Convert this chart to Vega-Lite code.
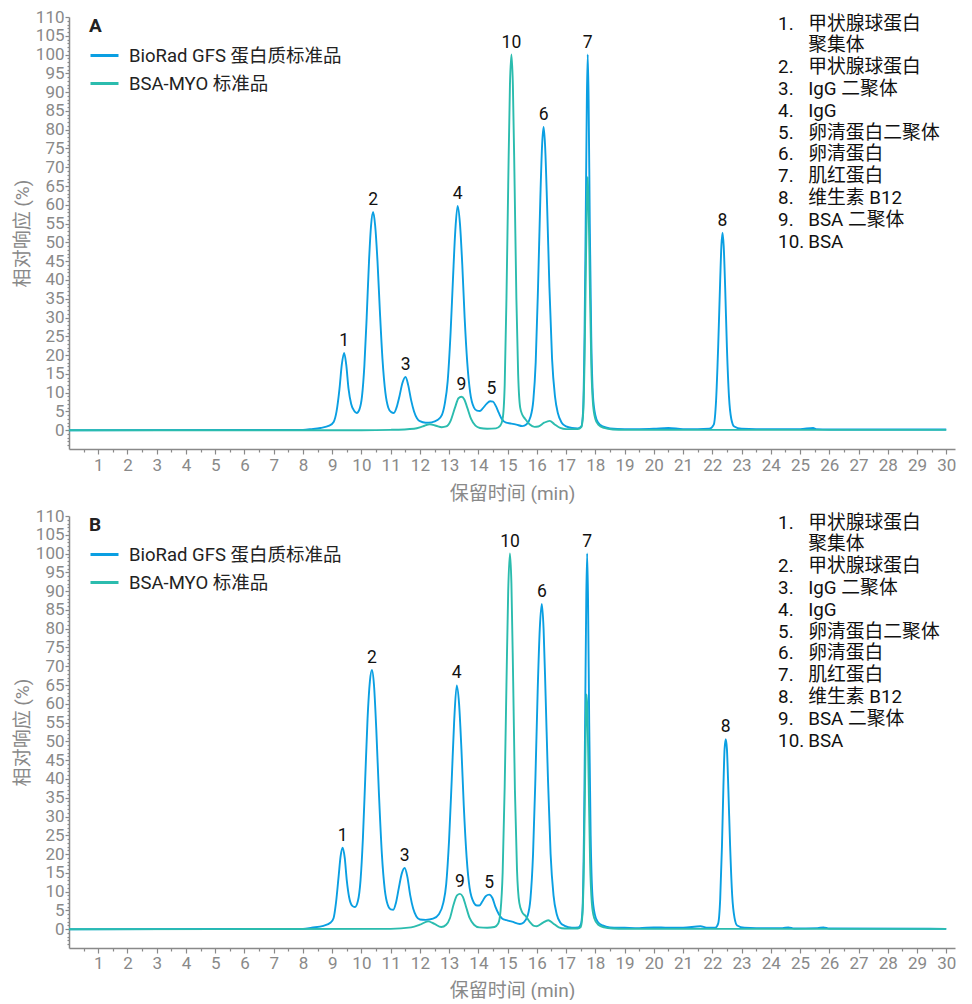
{
  "$schema": "https://vega.github.io/schema/vega-lite/v6.json",
  "padding": {"left": 13, "top": 8, "right": 0, "bottom": 0},
  "background": "white",
  "spacing": 4,
  "config": {
    "font": "Roboto, 'Noto Sans CJK SC'",
    "view": {"stroke": null},
    "axis": {
      "labelFont": "Roboto",
      "labelFontSize": 17,
      "labelColor": "#898989",
      "titleColor": "#898989",
      "titleFont": "Roboto, 'Noto Sans CJK SC'",
      "titleFontWeight": "normal",
      "titleFontSize": 19,
      "domainColor": "#898989",
      "domainWidth": 1.5,
      "tickColor": "#898989",
      "tickWidth": 1.2,
      "grid": false
    }
  },
  "datasets": {
    "traceA": [
      {"s":"BioRad GFS 蛋白质标准品","t":0,"v":0},{"s":"BioRad GFS 蛋白质标准品","t":8,"v":0.1},{"s":"BioRad GFS 蛋白质标准品","t":8.3,"v":0.3},{"s":"BioRad GFS 蛋白质标准品","t":8.6,"v":0.6},{"s":"BioRad GFS 蛋白质标准品","t":8.9,"v":1.2},{"s":"BioRad GFS 蛋白质标准品","t":9.05,"v":2.2},{"s":"BioRad GFS 蛋白质标准品","t":9.15,"v":5},{"s":"BioRad GFS 蛋白质标准品","t":9.25,"v":11},{"s":"BioRad GFS 蛋白质标准品","t":9.33,"v":17.5},{"s":"BioRad GFS 蛋白质标准品","t":9.41,"v":20.6},{"s":"BioRad GFS 蛋白质标准品","t":9.48,"v":17.5},{"s":"BioRad GFS 蛋白质标准品","t":9.56,"v":11},{"s":"BioRad GFS 蛋白质标准品","t":9.65,"v":7},{"s":"BioRad GFS 蛋白质标准品","t":9.75,"v":5.2},{"s":"BioRad GFS 蛋白质标准品","t":9.84,"v":4.6},{"s":"BioRad GFS 蛋白质标准品","t":9.93,"v":5.5},{"s":"BioRad GFS 蛋白质标准品","t":10.02,"v":9},{"s":"BioRad GFS 蛋白质标准品","t":10.1,"v":17},{"s":"BioRad GFS 蛋白质标准品","t":10.18,"v":30},{"s":"BioRad GFS 蛋白质标准品","t":10.26,"v":45},{"s":"BioRad GFS 蛋白质标准品","t":10.33,"v":54.5},{"s":"BioRad GFS 蛋白质标准品","t":10.4,"v":58.1},{"s":"BioRad GFS 蛋白质标准品","t":10.47,"v":54.5},{"s":"BioRad GFS 蛋白质标准品","t":10.55,"v":45},{"s":"BioRad GFS 蛋白质标准品","t":10.63,"v":32},{"s":"BioRad GFS 蛋白质标准品","t":10.72,"v":19},{"s":"BioRad GFS 蛋白质标准品","t":10.82,"v":10},{"s":"BioRad GFS 蛋白质标准品","t":10.92,"v":6},{"s":"BioRad GFS 蛋白质标准品","t":11.02,"v":4.8},{"s":"BioRad GFS 蛋白质标准品","t":11.11,"v":4.6},{"s":"BioRad GFS 蛋白质标准品","t":11.2,"v":6},{"s":"BioRad GFS 蛋白质标准品","t":11.3,"v":9},{"s":"BioRad GFS 蛋白质标准品","t":11.4,"v":12.5},{"s":"BioRad GFS 蛋白质标准品","t":11.51,"v":14.2},{"s":"BioRad GFS 蛋白质标准品","t":11.6,"v":12},{"s":"BioRad GFS 蛋白质标准品","t":11.7,"v":8},{"s":"BioRad GFS 蛋白质标准品","t":11.8,"v":5},{"s":"BioRad GFS 蛋白质标准品","t":11.9,"v":3.2},{"s":"BioRad GFS 蛋白质标准品","t":12,"v":2.4},{"s":"BioRad GFS 蛋白质标准品","t":12.2,"v":2},{"s":"BioRad GFS 蛋白质标准品","t":12.4,"v":2.1},{"s":"BioRad GFS 蛋白质标准品","t":12.6,"v":2.7},{"s":"BioRad GFS 蛋白质标准品","t":12.75,"v":4},{"s":"BioRad GFS 蛋白质标准品","t":12.85,"v":7},{"s":"BioRad GFS 蛋白质标准品","t":12.95,"v":13},{"s":"BioRad GFS 蛋白质标准品","t":13.05,"v":26},{"s":"BioRad GFS 蛋白质标准品","t":13.13,"v":40},{"s":"BioRad GFS 蛋白质标准品","t":13.21,"v":53},{"s":"BioRad GFS 蛋白质标准品","t":13.29,"v":59.7},{"s":"BioRad GFS 蛋白质标准品","t":13.37,"v":55},{"s":"BioRad GFS 蛋白质标准品","t":13.45,"v":44},{"s":"BioRad GFS 蛋白质标准品","t":13.53,"v":30},{"s":"BioRad GFS 蛋白质标准品","t":13.62,"v":18},{"s":"BioRad GFS 蛋白质标准品","t":13.72,"v":10},{"s":"BioRad GFS 蛋白质标准品","t":13.85,"v":6},{"s":"BioRad GFS 蛋白质标准品","t":13.95,"v":5.2},{"s":"BioRad GFS 蛋白质标准品","t":14.05,"v":5.1},{"s":"BioRad GFS 蛋白质标准品","t":14.15,"v":5.8},{"s":"BioRad GFS 蛋白质标准品","t":14.28,"v":7},{"s":"BioRad GFS 蛋白质标准品","t":14.4,"v":7.7},{"s":"BioRad GFS 蛋白质标准品","t":14.5,"v":7.6},{"s":"BioRad GFS 蛋白质标准品","t":14.6,"v":6.4},{"s":"BioRad GFS 蛋白质标准品","t":14.7,"v":4.6},{"s":"BioRad GFS 蛋白质标准品","t":14.8,"v":3},{"s":"BioRad GFS 蛋白质标准品","t":14.95,"v":2},{"s":"BioRad GFS 蛋白质标准品","t":15.1,"v":1.8},{"s":"BioRad GFS 蛋白质标准品","t":15.3,"v":1.5},{"s":"BioRad GFS 蛋白质标准品","t":15.5,"v":1.1},{"s":"BioRad GFS 蛋白质标准品","t":15.65,"v":1.6},{"s":"BioRad GFS 蛋白质标准品","t":15.78,"v":3.5},{"s":"BioRad GFS 蛋白质标准品","t":15.88,"v":8},{"s":"BioRad GFS 蛋白质标准品","t":15.96,"v":18},{"s":"BioRad GFS 蛋白质标准品","t":16.04,"v":38},{"s":"BioRad GFS 蛋白质标准品","t":16.12,"v":62},{"s":"BioRad GFS 蛋白质标准品","t":16.18,"v":76},{"s":"BioRad GFS 蛋白质标准品","t":16.23,"v":80.7},{"s":"BioRad GFS 蛋白质标准品","t":16.28,"v":76},{"s":"BioRad GFS 蛋白质标准品","t":16.35,"v":60},{"s":"BioRad GFS 蛋白质标准品","t":16.43,"v":38},{"s":"BioRad GFS 蛋白质标准品","t":16.52,"v":19},{"s":"BioRad GFS 蛋白质标准品","t":16.62,"v":9},{"s":"BioRad GFS 蛋白质标准品","t":16.72,"v":4.5},{"s":"BioRad GFS 蛋白质标准品","t":16.85,"v":2},{"s":"BioRad GFS 蛋白质标准品","t":17,"v":1},{"s":"BioRad GFS 蛋白质标准品","t":17.2,"v":0.6},{"s":"BioRad GFS 蛋白质标准品","t":17.4,"v":0.5},{"s":"BioRad GFS 蛋白质标准品","t":17.52,"v":1},{"s":"BioRad GFS 蛋白质标准品","t":17.58,"v":5},{"s":"BioRad GFS 蛋白质标准品","t":17.63,"v":25},{"s":"BioRad GFS 蛋白质标准品","t":17.67,"v":55},{"s":"BioRad GFS 蛋白质标准品","t":17.71,"v":88},{"s":"BioRad GFS 蛋白质标准品","t":17.74,"v":100},{"s":"BioRad GFS 蛋白质标准品","t":17.77,"v":88},{"s":"BioRad GFS 蛋白质标准品","t":17.81,"v":55},{"s":"BioRad GFS 蛋白质标准品","t":17.86,"v":25},{"s":"BioRad GFS 蛋白质标准品","t":17.92,"v":9},{"s":"BioRad GFS 蛋白质标准品","t":18,"v":4},{"s":"BioRad GFS 蛋白质标准品","t":18.1,"v":2},{"s":"BioRad GFS 蛋白质标准品","t":18.25,"v":1},{"s":"BioRad GFS 蛋白质标准品","t":18.5,"v":0.5},{"s":"BioRad GFS 蛋白质标准品","t":19,"v":0.3},{"s":"BioRad GFS 蛋白质标准品","t":19.5,"v":0.3},{"s":"BioRad GFS 蛋白质标准品","t":20,"v":0.4},{"s":"BioRad GFS 蛋白质标准品","t":20.5,"v":0.6},{"s":"BioRad GFS 蛋白质标准品","t":21,"v":0.3},{"s":"BioRad GFS 蛋白质标准品","t":21.5,"v":0.3},{"s":"BioRad GFS 蛋白质标准品","t":21.9,"v":0.4},{"s":"BioRad GFS 蛋白质标准品","t":22.05,"v":1.5},{"s":"BioRad GFS 蛋白质标准品","t":22.13,"v":8},{"s":"BioRad GFS 蛋白质标准品","t":22.2,"v":22},{"s":"BioRad GFS 蛋白质标准品","t":22.27,"v":40},{"s":"BioRad GFS 蛋白质标准品","t":22.31,"v":49},{"s":"BioRad GFS 蛋白质标准品","t":22.35,"v":52.6},{"s":"BioRad GFS 蛋白质标准品","t":22.39,"v":49},{"s":"BioRad GFS 蛋白质标准品","t":22.44,"v":38},{"s":"BioRad GFS 蛋白质标准品","t":22.5,"v":22},{"s":"BioRad GFS 蛋白质标准品","t":22.57,"v":9},{"s":"BioRad GFS 蛋白质标准品","t":22.65,"v":3},{"s":"BioRad GFS 蛋白质标准品","t":22.75,"v":1},{"s":"BioRad GFS 蛋白质标准品","t":23,"v":0.4},{"s":"BioRad GFS 蛋白质标准品","t":23.5,"v":0.3},{"s":"BioRad GFS 蛋白质标准品","t":24,"v":0.3},{"s":"BioRad GFS 蛋白质标准品","t":25,"v":0.3},{"s":"BioRad GFS 蛋白质标准品","t":25.45,"v":0.6},{"s":"BioRad GFS 蛋白质标准品","t":25.55,"v":0.3},{"s":"BioRad GFS 蛋白质标准品","t":26,"v":0.2},{"s":"BioRad GFS 蛋白质标准品","t":30,"v":0.2},
      {"s":"BSA-MYO 标准品","t":0,"v":0},{"s":"BSA-MYO 标准品","t":10,"v":0},{"s":"BSA-MYO 标准品","t":11,"v":0.1},{"s":"BSA-MYO 标准品","t":11.8,"v":0.4},{"s":"BSA-MYO 标准品","t":12.1,"v":1},{"s":"BSA-MYO 标准品","t":12.34,"v":1.6},{"s":"BSA-MYO 标准品","t":12.55,"v":1.2},{"s":"BSA-MYO 标准品","t":12.75,"v":0.8},{"s":"BSA-MYO 标准品","t":12.9,"v":1},{"s":"BSA-MYO 标准品","t":13.05,"v":2.5},{"s":"BSA-MYO 标准品","t":13.2,"v":6},{"s":"BSA-MYO 标准品","t":13.32,"v":8.5},{"s":"BSA-MYO 标准品","t":13.42,"v":8.9},{"s":"BSA-MYO 标准品","t":13.52,"v":8.2},{"s":"BSA-MYO 标准品","t":13.62,"v":6},{"s":"BSA-MYO 标准品","t":13.75,"v":3},{"s":"BSA-MYO 标准品","t":13.9,"v":1.2},{"s":"BSA-MYO 标准品","t":14.05,"v":0.6},{"s":"BSA-MYO 标准品","t":14.3,"v":0.4},{"s":"BSA-MYO 标准品","t":14.6,"v":0.5},{"s":"BSA-MYO 标准品","t":14.75,"v":1.2},{"s":"BSA-MYO 标准品","t":14.83,"v":3},{"s":"BSA-MYO 标准品","t":14.9,"v":12},{"s":"BSA-MYO 标准品","t":14.96,"v":35},{"s":"BSA-MYO 标准品","t":15.02,"v":65},{"s":"BSA-MYO 标准品","t":15.08,"v":92},{"s":"BSA-MYO 标准品","t":15.13,"v":100},{"s":"BSA-MYO 标准品","t":15.18,"v":92},{"s":"BSA-MYO 标准品","t":15.24,"v":65},{"s":"BSA-MYO 标准品","t":15.3,"v":35},{"s":"BSA-MYO 标准品","t":15.36,"v":15},{"s":"BSA-MYO 标准品","t":15.43,"v":6},{"s":"BSA-MYO 标准品","t":15.51,"v":4},{"s":"BSA-MYO 标准品","t":15.6,"v":3},{"s":"BSA-MYO 标准品","t":15.75,"v":1.6},{"s":"BSA-MYO 标准品","t":15.92,"v":0.9},{"s":"BSA-MYO 标准品","t":16.05,"v":1},{"s":"BSA-MYO 标准品","t":16.25,"v":2},{"s":"BSA-MYO 标准品","t":16.44,"v":2.5},{"s":"BSA-MYO 标准品","t":16.6,"v":1.6},{"s":"BSA-MYO 标准品","t":16.8,"v":0.6},{"s":"BSA-MYO 标准品","t":17,"v":0.3},{"s":"BSA-MYO 标准品","t":17.4,"v":0.3},{"s":"BSA-MYO 标准品","t":17.52,"v":0.8},{"s":"BSA-MYO 标准品","t":17.58,"v":4},{"s":"BSA-MYO 标准品","t":17.63,"v":18},{"s":"BSA-MYO 标准品","t":17.67,"v":40},{"s":"BSA-MYO 标准品","t":17.71,"v":60},{"s":"BSA-MYO 标准品","t":17.74,"v":67.4},{"s":"BSA-MYO 标准品","t":17.77,"v":60},{"s":"BSA-MYO 标准品","t":17.81,"v":40},{"s":"BSA-MYO 标准品","t":17.86,"v":18},{"s":"BSA-MYO 标准品","t":17.92,"v":7},{"s":"BSA-MYO 标准品","t":18,"v":3},{"s":"BSA-MYO 标准品","t":18.1,"v":1.5},{"s":"BSA-MYO 标准品","t":18.3,"v":0.6},{"s":"BSA-MYO 标准品","t":18.6,"v":0.2},{"s":"BSA-MYO 标准品","t":19,"v":0.1},{"s":"BSA-MYO 标准品","t":30,"v":0.1}
    ],
    "traceB": [
      {"s":"BioRad GFS 蛋白质标准品","t":0,"v":0},{"s":"BioRad GFS 蛋白质标准品","t":8,"v":0.1},{"s":"BioRad GFS 蛋白质标准品","t":8.3,"v":0.4},{"s":"BioRad GFS 蛋白质标准品","t":8.7,"v":0.9},{"s":"BioRad GFS 蛋白质标准品","t":8.95,"v":1.8},{"s":"BioRad GFS 蛋白质标准品","t":9.05,"v":3},{"s":"BioRad GFS 蛋白质标准品","t":9.13,"v":7},{"s":"BioRad GFS 蛋白质标准品","t":9.22,"v":14},{"s":"BioRad GFS 蛋白质标准品","t":9.29,"v":19.5},{"s":"BioRad GFS 蛋白质标准品","t":9.36,"v":21.7},{"s":"BioRad GFS 蛋白质标准品","t":9.43,"v":19},{"s":"BioRad GFS 蛋白质标准品","t":9.5,"v":13},{"s":"BioRad GFS 蛋白质标准品","t":9.58,"v":8.5},{"s":"BioRad GFS 蛋白质标准品","t":9.68,"v":6.3},{"s":"BioRad GFS 蛋白质标准品","t":9.78,"v":5.9},{"s":"BioRad GFS 蛋白质标准品","t":9.88,"v":7.5},{"s":"BioRad GFS 蛋白质标准品","t":9.97,"v":13},{"s":"BioRad GFS 蛋白质标准品","t":10.05,"v":24},{"s":"BioRad GFS 蛋白质标准品","t":10.13,"v":40},{"s":"BioRad GFS 蛋白质标准品","t":10.21,"v":56},{"s":"BioRad GFS 蛋白质标准品","t":10.29,"v":66},{"s":"BioRad GFS 蛋白质标准品","t":10.36,"v":69},{"s":"BioRad GFS 蛋白质标准品","t":10.43,"v":65},{"s":"BioRad GFS 蛋白质标准品","t":10.51,"v":53},{"s":"BioRad GFS 蛋白质标准品","t":10.6,"v":36},{"s":"BioRad GFS 蛋白质标准品","t":10.7,"v":20},{"s":"BioRad GFS 蛋白质标准品","t":10.8,"v":10.5},{"s":"BioRad GFS 蛋白质标准品","t":10.9,"v":6.5},{"s":"BioRad GFS 蛋白质标准品","t":11,"v":5.3},{"s":"BioRad GFS 蛋白质标准品","t":11.09,"v":5.2},{"s":"BioRad GFS 蛋白质标准品","t":11.18,"v":7},{"s":"BioRad GFS 蛋白质标准品","t":11.28,"v":11},{"s":"BioRad GFS 蛋白质标准品","t":11.38,"v":14.8},{"s":"BioRad GFS 蛋白质标准品","t":11.48,"v":16.3},{"s":"BioRad GFS 蛋白质标准品","t":11.57,"v":14},{"s":"BioRad GFS 蛋白质标准品","t":11.67,"v":9},{"s":"BioRad GFS 蛋白质标准品","t":11.77,"v":5.5},{"s":"BioRad GFS 蛋白质标准品","t":11.88,"v":3.4},{"s":"BioRad GFS 蛋白质标准品","t":12,"v":2.6},{"s":"BioRad GFS 蛋白质标准品","t":12.2,"v":2.5},{"s":"BioRad GFS 蛋白质标准品","t":12.45,"v":2.8},{"s":"BioRad GFS 蛋白质标准品","t":12.65,"v":4},{"s":"BioRad GFS 蛋白质标准品","t":12.8,"v":7},{"s":"BioRad GFS 蛋白质标准品","t":12.9,"v":12},{"s":"BioRad GFS 蛋白质标准品","t":13,"v":24},{"s":"BioRad GFS 蛋白质标准品","t":13.09,"v":40},{"s":"BioRad GFS 蛋白质标准品","t":13.17,"v":55},{"s":"BioRad GFS 蛋白质标准品","t":13.26,"v":64.9},{"s":"BioRad GFS 蛋白质标准品","t":13.34,"v":60},{"s":"BioRad GFS 蛋白质标准品","t":13.42,"v":48},{"s":"BioRad GFS 蛋白质标准品","t":13.5,"v":33},{"s":"BioRad GFS 蛋白质标准品","t":13.6,"v":19},{"s":"BioRad GFS 蛋白质标准品","t":13.7,"v":11},{"s":"BioRad GFS 蛋白质标准品","t":13.85,"v":7},{"s":"BioRad GFS 蛋白质标准品","t":13.95,"v":6.3},{"s":"BioRad GFS 蛋白质标准品","t":14.03,"v":6.3},{"s":"BioRad GFS 蛋白质标准品","t":14.13,"v":7.3},{"s":"BioRad GFS 蛋白质标准品","t":14.25,"v":8.8},{"s":"BioRad GFS 蛋白质标准品","t":14.37,"v":9.2},{"s":"BioRad GFS 蛋白质标准品","t":14.48,"v":8.3},{"s":"BioRad GFS 蛋白质标准品","t":14.58,"v":6},{"s":"BioRad GFS 蛋白质标准品","t":14.7,"v":4},{"s":"BioRad GFS 蛋白质标准品","t":14.82,"v":2.8},{"s":"BioRad GFS 蛋白质标准品","t":14.96,"v":2.4},{"s":"BioRad GFS 蛋白质标准品","t":15.15,"v":2},{"s":"BioRad GFS 蛋白质标准品","t":15.42,"v":1.4},{"s":"BioRad GFS 蛋白质标准品","t":15.55,"v":1.8},{"s":"BioRad GFS 蛋白质标准品","t":15.68,"v":3.5},{"s":"BioRad GFS 蛋白质标准品","t":15.78,"v":8},{"s":"BioRad GFS 蛋白质标准品","t":15.87,"v":20},{"s":"BioRad GFS 蛋白质标准品","t":15.95,"v":40},{"s":"BioRad GFS 蛋白质标准品","t":16.03,"v":64},{"s":"BioRad GFS 蛋白质标准品","t":16.1,"v":80},{"s":"BioRad GFS 蛋白质标准品","t":16.17,"v":86.6},{"s":"BioRad GFS 蛋白质标准品","t":16.23,"v":80},{"s":"BioRad GFS 蛋白质标准品","t":16.3,"v":62},{"s":"BioRad GFS 蛋白质标准品","t":16.38,"v":40},{"s":"BioRad GFS 蛋白质标准品","t":16.47,"v":20},{"s":"BioRad GFS 蛋白质标准品","t":16.57,"v":9},{"s":"BioRad GFS 蛋白质标准品","t":16.68,"v":4},{"s":"BioRad GFS 蛋白质标准品","t":16.8,"v":1.8},{"s":"BioRad GFS 蛋白质标准品","t":16.95,"v":0.9},{"s":"BioRad GFS 蛋白质标准品","t":17.2,"v":0.4},{"s":"BioRad GFS 蛋白质标准品","t":17.42,"v":0.5},{"s":"BioRad GFS 蛋白质标准品","t":17.5,"v":1.2},{"s":"BioRad GFS 蛋白质标准品","t":17.56,"v":5},{"s":"BioRad GFS 蛋白质标准品","t":17.61,"v":25},{"s":"BioRad GFS 蛋白质标准品","t":17.65,"v":55},{"s":"BioRad GFS 蛋白质标准品","t":17.69,"v":88},{"s":"BioRad GFS 蛋白质标准品","t":17.72,"v":100},{"s":"BioRad GFS 蛋白质标准品","t":17.75,"v":88},{"s":"BioRad GFS 蛋白质标准品","t":17.79,"v":55},{"s":"BioRad GFS 蛋白质标准品","t":17.84,"v":25},{"s":"BioRad GFS 蛋白质标准品","t":17.9,"v":9},{"s":"BioRad GFS 蛋白质标准品","t":17.98,"v":4},{"s":"BioRad GFS 蛋白质标准品","t":18.08,"v":2},{"s":"BioRad GFS 蛋白质标准品","t":18.25,"v":1},{"s":"BioRad GFS 蛋白质标准品","t":18.5,"v":0.5},{"s":"BioRad GFS 蛋白质标准品","t":19,"v":0.4},{"s":"BioRad GFS 蛋白质标准品","t":19.5,"v":0.3},{"s":"BioRad GFS 蛋白质标准品","t":20,"v":0.5},{"s":"BioRad GFS 蛋白质标准品","t":20.5,"v":0.4},{"s":"BioRad GFS 蛋白质标准品","t":21,"v":0.4},{"s":"BioRad GFS 蛋白质标准品","t":21.6,"v":0.8},{"s":"BioRad GFS 蛋白质标准品","t":21.8,"v":0.4},{"s":"BioRad GFS 蛋白质标准品","t":22.1,"v":0.4},{"s":"BioRad GFS 蛋白质标准品","t":22.2,"v":1.5},{"s":"BioRad GFS 蛋白质标准品","t":22.27,"v":8},{"s":"BioRad GFS 蛋白质标准品","t":22.33,"v":22},{"s":"BioRad GFS 蛋白质标准品","t":22.38,"v":38},{"s":"BioRad GFS 蛋白质标准品","t":22.42,"v":48},{"s":"BioRad GFS 蛋白质标准品","t":22.46,"v":50.6},{"s":"BioRad GFS 蛋白质标准品","t":22.5,"v":48},{"s":"BioRad GFS 蛋白质标准品","t":22.55,"v":37},{"s":"BioRad GFS 蛋白质标准品","t":22.61,"v":22},{"s":"BioRad GFS 蛋白质标准品","t":22.68,"v":9},{"s":"BioRad GFS 蛋白质标准品","t":22.76,"v":3},{"s":"BioRad GFS 蛋白质标准品","t":22.85,"v":1},{"s":"BioRad GFS 蛋白质标准品","t":23.1,"v":0.4},{"s":"BioRad GFS 蛋白质标准品","t":23.5,"v":0.3},{"s":"BioRad GFS 蛋白质标准品","t":24.4,"v":0.3},{"s":"BioRad GFS 蛋白质标准品","t":24.6,"v":0.5},{"s":"BioRad GFS 蛋白质标准品","t":24.8,"v":0.2},{"s":"BioRad GFS 蛋白质标准品","t":25.6,"v":0.3},{"s":"BioRad GFS 蛋白质标准品","t":25.8,"v":0.5},{"s":"BioRad GFS 蛋白质标准品","t":26,"v":0.2},{"s":"BioRad GFS 蛋白质标准品","t":30,"v":0.1},
      {"s":"BSA-MYO 标准品","t":0,"v":0},{"s":"BSA-MYO 标准品","t":11,"v":0.1},{"s":"BSA-MYO 标准品","t":11.7,"v":0.5},{"s":"BSA-MYO 标准品","t":12,"v":1.2},{"s":"BSA-MYO 标准品","t":12.28,"v":2.1},{"s":"BSA-MYO 标准品","t":12.5,"v":1.4},{"s":"BSA-MYO 标准品","t":12.73,"v":0.6},{"s":"BSA-MYO 标准品","t":12.9,"v":1.2},{"s":"BSA-MYO 标准品","t":13.03,"v":3},{"s":"BSA-MYO 标准品","t":13.15,"v":6.5},{"s":"BSA-MYO 标准品","t":13.27,"v":9},{"s":"BSA-MYO 标准品","t":13.37,"v":9.4},{"s":"BSA-MYO 标准品","t":13.47,"v":8.6},{"s":"BSA-MYO 标准品","t":13.57,"v":6.2},{"s":"BSA-MYO 标准品","t":13.7,"v":3},{"s":"BSA-MYO 标准品","t":13.85,"v":1.2},{"s":"BSA-MYO 标准品","t":14.03,"v":0.5},{"s":"BSA-MYO 标准品","t":14.3,"v":0.4},{"s":"BSA-MYO 标准品","t":14.55,"v":0.6},{"s":"BSA-MYO 标准品","t":14.68,"v":1.5},{"s":"BSA-MYO 标准品","t":14.76,"v":5},{"s":"BSA-MYO 标准品","t":14.83,"v":15},{"s":"BSA-MYO 标准品","t":14.9,"v":38},{"s":"BSA-MYO 标准品","t":14.96,"v":65},{"s":"BSA-MYO 标准品","t":15.02,"v":90},{"s":"BSA-MYO 标准品","t":15.08,"v":100},{"s":"BSA-MYO 标准品","t":15.13,"v":92},{"s":"BSA-MYO 标准品","t":15.19,"v":66},{"s":"BSA-MYO 标准品","t":15.25,"v":37},{"s":"BSA-MYO 标准品","t":15.32,"v":16},{"s":"BSA-MYO 标准品","t":15.4,"v":7},{"s":"BSA-MYO 标准品","t":15.5,"v":4.5},{"s":"BSA-MYO 标准品","t":15.62,"v":3.5},{"s":"BSA-MYO 标准品","t":15.75,"v":2},{"s":"BSA-MYO 标准品","t":15.9,"v":0.9},{"s":"BSA-MYO 标准品","t":16,"v":0.8},{"s":"BSA-MYO 标准品","t":16.2,"v":1.7},{"s":"BSA-MYO 标准品","t":16.39,"v":2.4},{"s":"BSA-MYO 标准品","t":16.55,"v":1.6},{"s":"BSA-MYO 标准品","t":16.75,"v":0.5},{"s":"BSA-MYO 标准品","t":16.95,"v":0.2},{"s":"BSA-MYO 标准品","t":17.4,"v":0.2},{"s":"BSA-MYO 标准品","t":17.5,"v":0.6},{"s":"BSA-MYO 标准品","t":17.56,"v":4},{"s":"BSA-MYO 标准品","t":17.61,"v":18},{"s":"BSA-MYO 标准品","t":17.65,"v":40},{"s":"BSA-MYO 标准品","t":17.68,"v":58},{"s":"BSA-MYO 标准品","t":17.7,"v":62.5},{"s":"BSA-MYO 标准品","t":17.73,"v":58},{"s":"BSA-MYO 标准品","t":17.77,"v":40},{"s":"BSA-MYO 标准品","t":17.82,"v":18},{"s":"BSA-MYO 标准品","t":17.88,"v":7},{"s":"BSA-MYO 标准品","t":17.96,"v":3},{"s":"BSA-MYO 标准品","t":18.1,"v":1.2},{"s":"BSA-MYO 标准品","t":18.3,"v":0.5},{"s":"BSA-MYO 标准品","t":18.6,"v":0.2},{"s":"BSA-MYO 标准品","t":19,"v":0.1},{"s":"BSA-MYO 标准品","t":30,"v":0.1}
    ],
    "peaksA": [
      {"peak":"1","t":9.41,"v":20.6},{"peak":"2","t":10.4,"v":58.1},{"peak":"3","t":11.51,"v":14.2},{"peak":"4","t":13.29,"v":59.7},{"peak":"5","t":14.45,"v":7.7},{"peak":"6","t":16.23,"v":80.7},{"peak":"7","t":17.74,"v":100},{"peak":"8","t":22.35,"v":52.6},{"peak":"9","t":13.42,"v":8.9},{"peak":"10","t":15.13,"v":100}
    ],
    "peaksB": [
      {"peak":"1","t":9.36,"v":21.7},{"peak":"2","t":10.36,"v":69},{"peak":"3","t":11.48,"v":16.3},{"peak":"4","t":13.26,"v":64.9},{"peak":"5","t":14.37,"v":9.2},{"peak":"6","t":16.17,"v":86.6},{"peak":"7","t":17.72,"v":100},{"peak":"8","t":22.46,"v":50.6},{"peak":"9","t":13.37,"v":9.4},{"peak":"10","t":15.08,"v":100}
    ],
    "names": [
      {"no":"1.","name":"甲状腺球蛋白","line":0},
      {"no":"","name":"聚集体","line":1},
      {"no":"2.","name":"甲状腺球蛋白","line":2},
      {"no":"3.","name":"IgG 二聚体","line":3},
      {"no":"4.","name":"IgG","line":4},
      {"no":"5.","name":"卵清蛋白二聚体","line":5},
      {"no":"6.","name":"卵清蛋白","line":6},
      {"no":"7.","name":"肌红蛋白","line":7},
      {"no":"8.","name":"维生素 B12","line":8},
      {"no":"9.","name":"BSA 二聚体","line":9},
      {"no":"10.","name":"BSA","line":10}
    ]
  },
  "resolve": {"legend": {"color": "independent"}},
  "vconcat": [
    {
      "width": 886,
      "height": 432,
      "layer": [
        {
          "layer": [
            {
              "data": {"name": "traceA"},
              "mark": {"type": "line", "strokeWidth": 1.9, "interpolate": "monotone"},
              "encoding": {
                "x": {"field": "t", "type": "quantitative", "scale": {"domain": [0, 30.3], "nice": false, "zero": false},
                  "axis": {"orient": "bottom", "values": [1,2,3,4,5,6,7,8,9,10,11,12,13,14,15,16,17,18,19,20,21,22,23,24,25,26,27,28,29,30], "title": "保留时间 (min)", "tickSize": 5, "labelPadding": 3, "titlePadding": 11}},
                "y": {"field": "v", "type": "quantitative", "scale": {"domain": [-5, 110], "nice": false, "zero": false},
                  "axis": {"orient": "left", "values": [0,5,10,15,20,25,30,35,40,45,50,55,60,65,70,75,80,85,90,95,100,105,110], "title": "相对响应 (%)", "tickSize": 4, "labelPadding": 1, "titlePadding": 3}},
                "color": {"field": "s", "type": "nominal",
                  "scale": {"domain": ["BioRad GFS 蛋白质标准品", "BSA-MYO 标准品"], "range": ["#0a9fe2", "#2bbcae"]},
                  "legend": {"title": "A", "orient": "none", "legendX": 20, "legendY": 0, "titleFontSize": 19, "titleFontWeight": "bold", "titleColor": "#222222", "titleFont": "Roboto", "titlePadding": 4, "labelFontSize": 18.5, "labelColor": "#222222", "labelFont": "Roboto, 'Noto Sans CJK SC'", "labelLimit": 0, "symbolType": "stroke", "symbolStrokeWidth": 3, "symbolSize": 784, "labelOffset": 9, "rowPadding": 3}}
              }
            },
            {
              "data": {"name": "peaksA"},
              "mark": {"type": "text", "fontSize": 17.5, "color": "#111111", "baseline": "alphabetic", "dy": -7, "font": "Roboto"},
              "encoding": {
                "x": {"field": "t", "type": "quantitative", "scale": {"domain": [0, 30.3], "nice": false, "zero": false},
                  "axis": {"orient": "bottom", "values": [0.5,1.5,2.5,3.5,4.5,5.5,6.5,7.5,8.5,9.5,10.5,11.5,12.5,13.5,14.5,15.5,16.5,17.5,18.5,19.5,20.5,21.5,22.5,23.5,24.5,25.5,26.5,27.5,28.5,29.5], "labels": false, "domain": false, "title": null, "tickSize": 3}},
                "y": {"field": "v", "type": "quantitative", "scale": {"domain": [-5, 110], "nice": false, "zero": false},
                  "axis": {"orient": "left", "values": [-4,-3,-2,-1,1,2,3,4,6,7,8,9,11,12,13,14,16,17,18,19,21,22,23,24,26,27,28,29,31,32,33,34,36,37,38,39,41,42,43,44,46,47,48,49,51,52,53,54,56,57,58,59,61,62,63,64,66,67,68,69,71,72,73,74,76,77,78,79,81,82,83,84,86,87,88,89,91,92,93,94,96,97,98,99,101,102,103,104,106,107,108,109], "labels": false, "domain": false, "title": null, "tickSize": 2}},
                "text": {"field": "peak", "type": "nominal"}
              }
            }
          ],
          "resolve": {"axis": {"x": "independent", "y": "independent"}}
        },
        {
          "data": {"name": "names"},
          "layer": [
            {
              "mark": {"type": "text", "align": "left", "baseline": "middle", "fontSize": 18.8, "color": "#111111", "font": "Roboto, 'Noto Sans CJK SC'"},
              "encoding": {
                "x": {"datum": 24.25, "type": "quantitative", "scale": {"domain": [0, 30.3], "nice": false, "zero": false}, "axis": null},
                "y": {"field": "line", "type": "quantitative", "scale": {"domain": [-0.3, 19.52], "reverse": true, "nice": false, "zero": false}, "axis": null},
                "text": {"field": "no", "type": "nominal"}
              }
            },
            {
              "mark": {"type": "text", "align": "left", "baseline": "middle", "fontSize": 18.8, "color": "#111111", "font": "Roboto, 'Noto Sans CJK SC'"},
              "encoding": {
                "x": {"datum": 25.28, "type": "quantitative", "scale": {"domain": [0, 30.3], "nice": false, "zero": false}, "axis": null},
                "y": {"field": "line", "type": "quantitative", "scale": {"domain": [-0.3, 19.52], "reverse": true, "nice": false, "zero": false}, "axis": null},
                "text": {"field": "name", "type": "nominal"}
              }
            }
          ]
        }
      ],
      "resolve": {"scale": {"y": "independent"}}
    },
    {
      "width": 886,
      "height": 432,
      "layer": [
        {
          "layer": [
            {
              "data": {"name": "traceB"},
              "mark": {"type": "line", "strokeWidth": 1.9, "interpolate": "monotone"},
              "encoding": {
                "x": {"field": "t", "type": "quantitative", "scale": {"domain": [0, 30.3], "nice": false, "zero": false},
                  "axis": {"orient": "bottom", "values": [1,2,3,4,5,6,7,8,9,10,11,12,13,14,15,16,17,18,19,20,21,22,23,24,25,26,27,28,29,30], "title": "保留时间 (min)", "tickSize": 5, "labelPadding": 2, "titlePadding": 10}},
                "y": {"field": "v", "type": "quantitative", "scale": {"domain": [-5, 110], "nice": false, "zero": false},
                  "axis": {"orient": "left", "values": [0,5,10,15,20,25,30,35,40,45,50,55,60,65,70,75,80,85,90,95,100,105,110], "title": "相对响应 (%)", "tickSize": 4, "labelPadding": 1, "titlePadding": 3}},
                "color": {"field": "s", "type": "nominal",
                  "scale": {"domain": ["BioRad GFS 蛋白质标准品", "BSA-MYO 标准品"], "range": ["#0a9fe2", "#2bbcae"]},
                  "legend": {"title": "B", "orient": "none", "legendX": 20, "legendY": 0, "titleFontSize": 19, "titleFontWeight": "bold", "titleColor": "#222222", "titleFont": "Roboto", "titlePadding": 4, "labelFontSize": 18.5, "labelColor": "#222222", "labelFont": "Roboto, 'Noto Sans CJK SC'", "labelLimit": 0, "symbolType": "stroke", "symbolStrokeWidth": 3, "symbolSize": 784, "labelOffset": 9, "rowPadding": 3}}
              }
            },
            {
              "data": {"name": "peaksB"},
              "mark": {"type": "text", "fontSize": 17.5, "color": "#111111", "baseline": "alphabetic", "dy": -7, "font": "Roboto"},
              "encoding": {
                "x": {"field": "t", "type": "quantitative", "scale": {"domain": [0, 30.3], "nice": false, "zero": false},
                  "axis": {"orient": "bottom", "values": [0.5,1.5,2.5,3.5,4.5,5.5,6.5,7.5,8.5,9.5,10.5,11.5,12.5,13.5,14.5,15.5,16.5,17.5,18.5,19.5,20.5,21.5,22.5,23.5,24.5,25.5,26.5,27.5,28.5,29.5], "labels": false, "domain": false, "title": null, "tickSize": 3}},
                "y": {"field": "v", "type": "quantitative", "scale": {"domain": [-5, 110], "nice": false, "zero": false},
                  "axis": {"orient": "left", "values": [-4,-3,-2,-1,1,2,3,4,6,7,8,9,11,12,13,14,16,17,18,19,21,22,23,24,26,27,28,29,31,32,33,34,36,37,38,39,41,42,43,44,46,47,48,49,51,52,53,54,56,57,58,59,61,62,63,64,66,67,68,69,71,72,73,74,76,77,78,79,81,82,83,84,86,87,88,89,91,92,93,94,96,97,98,99,101,102,103,104,106,107,108,109], "labels": false, "domain": false, "title": null, "tickSize": 2}},
                "text": {"field": "peak", "type": "nominal"}
              }
            }
          ],
          "resolve": {"axis": {"x": "independent", "y": "independent"}}
        },
        {
          "data": {"name": "names"},
          "layer": [
            {
              "mark": {"type": "text", "align": "left", "baseline": "middle", "fontSize": 18.8, "color": "#111111", "font": "Roboto, 'Noto Sans CJK SC'"},
              "encoding": {
                "x": {"datum": 24.25, "type": "quantitative", "scale": {"domain": [0, 30.3], "nice": false, "zero": false}, "axis": null},
                "y": {"field": "line", "type": "quantitative", "scale": {"domain": [-0.3, 19.52], "reverse": true, "nice": false, "zero": false}, "axis": null},
                "text": {"field": "no", "type": "nominal"}
              }
            },
            {
              "mark": {"type": "text", "align": "left", "baseline": "middle", "fontSize": 18.8, "color": "#111111", "font": "Roboto, 'Noto Sans CJK SC'"},
              "encoding": {
                "x": {"datum": 25.28, "type": "quantitative", "scale": {"domain": [0, 30.3], "nice": false, "zero": false}, "axis": null},
                "y": {"field": "line", "type": "quantitative", "scale": {"domain": [-0.3, 19.52], "reverse": true, "nice": false, "zero": false}, "axis": null},
                "text": {"field": "name", "type": "nominal"}
              }
            }
          ]
        }
      ],
      "resolve": {"scale": {"y": "independent"}}
    }
  ]
}
